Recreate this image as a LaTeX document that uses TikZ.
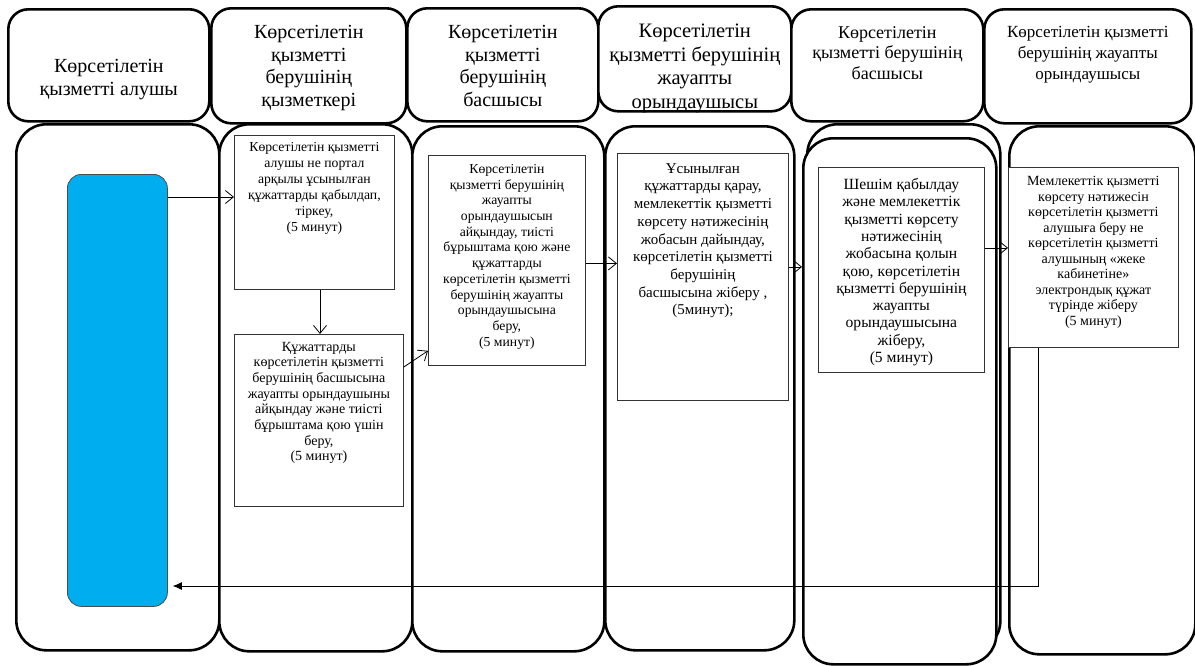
\documentclass[tikz,border=0pt]{standalone}
\usepackage{fontspec}
\setmainfont{Liberation Serif}
\usetikzlibrary{arrows.meta,calc}
\definecolor{blueF}{HTML}{00AEEF}
\newcommand\bx[6]{\parbox[c][#2pt][t]{#1pt}{\centering\fontsize{#4}{#5}\selectfont\vspace*{#3pt}#6\par}}
\tikzset{
  lane/.style={draw=black, line width=2.6pt, rounded corners=30pt, fill=white, inner sep=0pt, anchor=north west},
  hdr/.style={draw=black, line width=2.6pt, rounded corners=20pt, fill=white, inner sep=0pt, anchor=north west},
  stepbox/.style={draw=black!80, line width=0.8pt, fill=white, inner sep=0pt, anchor=north west},
  recvbox/.style={draw=black!70, line width=0.8pt, fill=blueF, rounded corners=14pt, inner sep=0pt, anchor=north west},
  conn/.style={draw=black, line width=0.8pt, -{Straight Barb[length=8pt,width=13pt]}},
  back/.style={draw=black, line width=0.8pt, -{Latex[length=9pt,width=8pt]}}
}
\begin{document}
\begin{tikzpicture}[x=1pt,y=-1pt]
\useasboundingbox[fill=white] (0,0) rectangle (1195,665);
% lanes
\node[lane, minimum width=203pt, minimum height=526pt] (l1) at (15,123) {};
\node[lane, minimum width=193pt, minimum height=527pt] (l2) at (218,123) {};
\node[lane, minimum width=192pt, minimum height=525pt] (l3) at (411,125) {};
\node[lane, minimum width=189pt, minimum height=524pt] (l4) at (604,125) {};
\node[lane, minimum width=193pt, minimum height=527pt] (l5a) at (806,123) {};
\node[lane, minimum width=193pt, minimum height=526pt] (l5b) at (802,137) {};
\node[lane, minimum width=186pt, minimum height=528pt] (l6) at (1008,125) {};
% headers
\node[hdr] (h1) at (7,8) {\bx{201}{112}{50}{20}{23}{Көрсетілетін\\қызметті алушы}};
\node[hdr] (h2) at (210,7) {\bx{195}{115}{17}{20}{22.5}{Көрсетілетін\\қызметті\\берушінің\\қызметкері}};
\node[hdr] (h3) at (406,7) {\bx{191}{113}{17}{20}{22.5}{Көрсетілетін\\қызметті\\берушінің\\басшысы}};
\node[hdr] (h4) at (597,5) {\bx{193}{105}{18}{20.5}{23.5}{Көрсетілетін\\қызметті берушінің\\жауапты\\орындаушысы}};
\node[hdr] (h5) at (790,8) {\bx{192}{112}{17}{18}{20.5}{Көрсетілетін\\қызметті берушінің\\басшысы}};
\node[hdr] (h6) at (983,8) {\bx{207}{114}{17}{17}{21}{Көрсетілетін қызметті\\берушінің жауапты\\орындаушысы}};
% service receiver
\node[recvbox, minimum width=100pt, minimum height=432pt] (recv) at (67,174) {};
% steps
\node[stepbox] (b1) at (234,135) {\bx{160}{154}{7}{13.7}{16}{Көрсетілетін қызметті\\алушы не портал\\арқылы ұсынылған\\құжаттарды қабылдап,\\тіркеу,\\(5 минут)}};
\node[stepbox] (b2) at (234,334) {\bx{169}{172}{7.5}{14}{15.7}{Құжаттарды\\көрсетілетін қызметті\\берушінің басшысына\\жауапты орындаушыны\\айқындау және тиісті\\бұрыштама қою үшін\\беру,\\(5 минут)}};
\node[stepbox] (b3) at (428,155) {\bx{157}{210}{9}{13.7}{15.7}{Көрсетілетін\\қызметті берушінің\\жауапты\\орындаушысын\\айқындау, тиісті\\бұрыштама қою және\\құжаттарды\\көрсетілетін қызметті\\берушінің жауапты\\орындаушысына\\беру,\\(5 минут)}};
\node[stepbox] (b4) at (617,153) {\bx{171}{247}{10}{15}{17.7}{Ұсынылған\\құжаттарды қарау,\\мемлекеттік қызметті\\көрсету нәтижесінің\\жобасын дайындау,\\көрсетілетін қызметті\\берушінің\\басшысына жіберу ,\\(5минут);}};
\node[stepbox] (b5) at (818,167) {\bx{166}{205}{11}{15.6}{17.3}{Шешім қабылдау\\және мемлекеттік\\қызметті көрсету\\нәтижесінің\\жобасына  қолын\\қою, көрсетілетін\\қызметті берушінің\\жауапты\\орындаушысына\\жіберу,\\(5 минут)}};
\node[stepbox] (b6) at (1008,167) {\bx{170}{180}{9}{14}{15.5}{Мемлекеттік қызметті\\көрсету нәтижесін\\көрсетілетін қызметті\\алушыға беру не\\көрсетілетін қызметті\\алушының «жеке\\кабинетіне»\\электрондық құжат\\түрінде жіберу\\(5 минут)}};
% connectors
\coordinate (a1) at (233,197);
\draw[conn] (recv.east |- a1) -- (b1.west |- a1);
\draw[conn] ([xshift=86pt]b1.south west) -- ([xshift=86pt]b1.south west |- b2.north);
\draw[conn] ([yshift=-33pt]b2.north east) -- ([yshift=15pt]b3.south west);
\draw[conn] ([yshift=-3pt]b3.east) -- ([yshift=-3pt]b3.east -| b4.west);
\draw[conn] ([yshift=10pt]b4.east) -- ([yshift=10pt]b4.east -| l5b.west);
\draw[conn] ([yshift=22pt]b5.east) -- ([yshift=22pt]b5.east -| b6.west);
\coordinate (ret) at (1038,586);
\draw[back] ([xshift=30pt]b6.south west) -- (ret) -- ([xshift=5pt]recv.east |- ret);
\end{tikzpicture}
\end{document}
